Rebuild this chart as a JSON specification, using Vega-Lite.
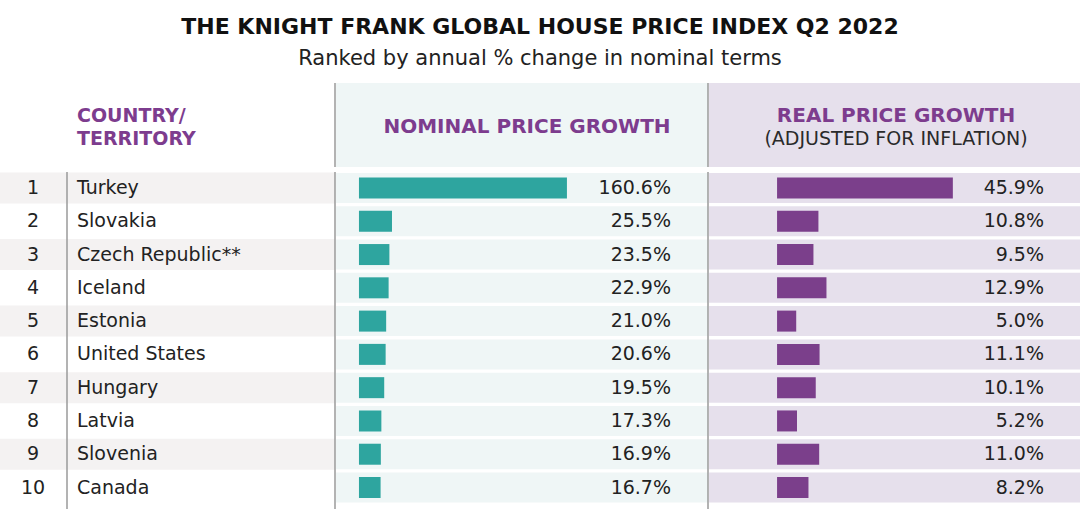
{
  "$schema": "https://vega.github.io/schema/vega-lite/v6.json",
  "width": 1080,
  "height": 429,
  "autosize": "none",
  "padding": {"top": 80, "left": 0, "right": 0, "bottom": 0},
  "background": "white",
  "title": {
    "text": "THE KNIGHT FRANK GLOBAL HOUSE PRICE INDEX Q2 2022",
    "subtitle": "Ranked by annual % change in nominal terms",
    "anchor": "middle",
    "font": "DejaVu Sans",
    "fontSize": 22,
    "fontWeight": "bold",
    "color": "#111111",
    "subtitleFont": "DejaVu Sans",
    "subtitleFontSize": 21,
    "subtitleColor": "#222222",
    "subtitlePadding": 9,
    "offset": 10
  },
  "datasets": {
    "rows": [
      {"rank": 1, "country": "Turkey", "nominal": 160.6, "real": 45.9},
      {"rank": 2, "country": "Slovakia", "nominal": 25.5, "real": 10.8},
      {"rank": 3, "country": "Czech Republic**", "nominal": 23.5, "real": 9.5},
      {"rank": 4, "country": "Iceland", "nominal": 22.9, "real": 12.9},
      {"rank": 5, "country": "Estonia", "nominal": 21.0, "real": 5.0},
      {"rank": 6, "country": "United States", "nominal": 20.6, "real": 11.1},
      {"rank": 7, "country": "Hungary", "nominal": 19.5, "real": 10.1},
      {"rank": 8, "country": "Latvia", "nominal": 17.3, "real": 5.2},
      {"rank": 9, "country": "Slovenia", "nominal": 16.9, "real": 11.0},
      {"rank": 10, "country": "Canada", "nominal": 16.7, "real": 8.2}
    ]
  },
  "layer": [
    {
      "data": {"name": "rows"},
      "transform": [{"filter": "datum.rank % 2 == 1"}],
      "mark": {"type": "bar", "orient": "horizontal", "size": 31, "color": "#f4f2f2"},
      "encoding": {
        "x": {"datum": 0, "type": "quantitative", "scale": {"domain": [0, 1080], "nice": false, "zero": false, "padding": 0}, "axis": null},
        "x2": {"datum": 335},
        "y": {"field": "rank", "type": "quantitative", "scale": {"domain": [-2.245, 10.646], "reverse": true, "nice": false, "zero": false, "padding": 0}, "axis": null}
      }
    },
    {
      "data": {"values": [{"panel": "nominal"}]},
      "mark": {"type": "rect", "color": "#eff6f6"},
      "encoding": {
        "x": {"datum": 336, "type": "quantitative", "scale": {"domain": [0, 1080], "nice": false, "zero": false, "padding": 0}, "axis": null},
        "x2": {"datum": 708},
        "y": {"datum": -2.155, "type": "quantitative", "scale": {"domain": [-2.245, 10.646], "reverse": true, "nice": false, "zero": false, "padding": 0}, "axis": null},
        "y2": {"datum": 0.369}
      }
    },
    {
      "data": {"values": [{"panel": "real"}]},
      "mark": {"type": "rect", "color": "#e6e0ec"},
      "encoding": {
        "x": {"datum": 709, "type": "quantitative", "scale": {"domain": [0, 1080], "nice": false, "zero": false, "padding": 0}, "axis": null},
        "x2": {"datum": 1080},
        "y": {"datum": -2.155, "type": "quantitative", "scale": {"domain": [-2.245, 10.646], "reverse": true, "nice": false, "zero": false, "padding": 0}, "axis": null},
        "y2": {"datum": 0.369}
      }
    },
    {
      "data": {"name": "rows"},
      "mark": {"type": "bar", "orient": "horizontal", "size": 30, "color": "#eff6f6"},
      "encoding": {
        "x": {"datum": 336, "type": "quantitative", "scale": {"domain": [0, 1080], "nice": false, "zero": false, "padding": 0}, "axis": null},
        "x2": {"datum": 708},
        "y": {"field": "rank", "type": "quantitative", "scale": {"domain": [-2.245, 10.646], "reverse": true, "nice": false, "zero": false, "padding": 0}, "axis": null}
      }
    },
    {
      "data": {"name": "rows"},
      "mark": {"type": "bar", "orient": "horizontal", "size": 30, "color": "#e6e0ec"},
      "encoding": {
        "x": {"datum": 709, "type": "quantitative", "scale": {"domain": [0, 1080], "nice": false, "zero": false, "padding": 0}, "axis": null},
        "x2": {"datum": 1080},
        "y": {"field": "rank", "type": "quantitative", "scale": {"domain": [-2.245, 10.646], "reverse": true, "nice": false, "zero": false, "padding": 0}, "axis": null}
      }
    },
    {
      "data": {"values": [{"line": "rank-country"}]},
      "mark": {"type": "rule", "color": "#9a9a9a", "strokeWidth": 1.5},
      "encoding": {
        "x": {"datum": 67, "type": "quantitative", "scale": {"domain": [0, 1080], "nice": false, "zero": false, "padding": 0}, "axis": null},
        "y": {"datum": 0.52, "type": "quantitative", "scale": {"domain": [-2.245, 10.646], "reverse": true, "nice": false, "zero": false, "padding": 0}, "axis": null},
        "y2": {"datum": 10.646}
      }
    },
    {
      "data": {"values": [{"line": "country-nominal-head"}]},
      "mark": {"type": "rule", "color": "#9a9a9a", "strokeWidth": 1.5},
      "encoding": {
        "x": {"datum": 335, "type": "quantitative", "scale": {"domain": [0, 1080], "nice": false, "zero": false, "padding": 0}, "axis": null},
        "y": {"datum": -2.155, "type": "quantitative", "scale": {"domain": [-2.245, 10.646], "reverse": true, "nice": false, "zero": false, "padding": 0}, "axis": null},
        "y2": {"datum": 0.369}
      }
    },
    {
      "data": {"values": [{"line": "country-nominal-body"}]},
      "mark": {"type": "rule", "color": "#9a9a9a", "strokeWidth": 1.5},
      "encoding": {
        "x": {"datum": 335, "type": "quantitative", "scale": {"domain": [0, 1080], "nice": false, "zero": false, "padding": 0}, "axis": null},
        "y": {"datum": 0.52, "type": "quantitative", "scale": {"domain": [-2.245, 10.646], "reverse": true, "nice": false, "zero": false, "padding": 0}, "axis": null},
        "y2": {"datum": 10.646}
      }
    },
    {
      "data": {"values": [{"line": "nominal-real-head"}]},
      "mark": {"type": "rule", "color": "#9a9a9a", "strokeWidth": 1.5},
      "encoding": {
        "x": {"datum": 708, "type": "quantitative", "scale": {"domain": [0, 1080], "nice": false, "zero": false, "padding": 0}, "axis": null},
        "y": {"datum": -2.155, "type": "quantitative", "scale": {"domain": [-2.245, 10.646], "reverse": true, "nice": false, "zero": false, "padding": 0}, "axis": null},
        "y2": {"datum": 0.369}
      }
    },
    {
      "data": {"values": [{"line": "nominal-real-body"}]},
      "mark": {"type": "rule", "color": "#9a9a9a", "strokeWidth": 1.5},
      "encoding": {
        "x": {"datum": 708, "type": "quantitative", "scale": {"domain": [0, 1080], "nice": false, "zero": false, "padding": 0}, "axis": null},
        "y": {"datum": 0.52, "type": "quantitative", "scale": {"domain": [-2.245, 10.646], "reverse": true, "nice": false, "zero": false, "padding": 0}, "axis": null},
        "y2": {"datum": 10.646}
      }
    },
    {
      "data": {"name": "rows"},
      "mark": {"type": "bar", "orient": "horizontal", "size": 21, "color": "#2ea59f"},
      "encoding": {
        "x": {"field": "nominal", "type": "quantitative", "scale": {"domain": [-277.2, 556.8], "nice": false, "zero": false, "padding": 0}, "axis": null},
        "x2": {"datum": 0},
        "y": {"field": "rank", "type": "quantitative", "scale": {"domain": [-2.245, 10.646], "reverse": true, "nice": false, "zero": false, "padding": 0}, "axis": null}
      }
    },
    {
      "data": {"name": "rows"},
      "mark": {"type": "bar", "orient": "horizontal", "size": 21, "color": "#7b3f8b"},
      "encoding": {
        "x": {"field": "real", "type": "quantitative", "scale": {"domain": [-202.9, 79.1], "nice": false, "zero": false, "padding": 0}, "axis": null},
        "x2": {"datum": 0},
        "y": {"field": "rank", "type": "quantitative", "scale": {"domain": [-2.245, 10.646], "reverse": true, "nice": false, "zero": false, "padding": 0}, "axis": null}
      }
    },
    {
      "data": {"name": "rows"},
      "mark": {"type": "text", "align": "center", "baseline": "middle", "font": "DejaVu Sans", "fontSize": 19, "color": "#222222"},
      "encoding": {
        "x": {"datum": 33, "type": "quantitative", "scale": {"domain": [0, 1080], "nice": false, "zero": false, "padding": 0}, "axis": null},
        "y": {"field": "rank", "type": "quantitative", "scale": {"domain": [-2.245, 10.646], "reverse": true, "nice": false, "zero": false, "padding": 0}, "axis": null},
        "text": {"field": "rank", "type": "quantitative"}
      }
    },
    {
      "data": {"name": "rows"},
      "mark": {"type": "text", "align": "left", "baseline": "middle", "font": "DejaVu Sans", "fontSize": 19, "color": "#222222"},
      "encoding": {
        "x": {"datum": 77, "type": "quantitative", "scale": {"domain": [0, 1080], "nice": false, "zero": false, "padding": 0}, "axis": null},
        "y": {"field": "rank", "type": "quantitative", "scale": {"domain": [-2.245, 10.646], "reverse": true, "nice": false, "zero": false, "padding": 0}, "axis": null},
        "text": {"field": "country", "type": "nominal"}
      }
    },
    {
      "data": {"name": "rows"},
      "mark": {"type": "text", "align": "right", "baseline": "middle", "font": "DejaVu Sans", "fontSize": 19, "color": "#222222", "text": {"expr": "format(datum.nominal, '.1f') + '%'"}},
      "encoding": {
        "x": {"datum": 671, "type": "quantitative", "scale": {"domain": [0, 1080], "nice": false, "zero": false, "padding": 0}, "axis": null},
        "y": {"field": "rank", "type": "quantitative", "scale": {"domain": [-2.245, 10.646], "reverse": true, "nice": false, "zero": false, "padding": 0}, "axis": null}
      }
    },
    {
      "data": {"name": "rows"},
      "mark": {"type": "text", "align": "right", "baseline": "middle", "font": "DejaVu Sans", "fontSize": 19, "color": "#222222", "text": {"expr": "format(datum.real, '.1f') + '%'"}},
      "encoding": {
        "x": {"datum": 1044, "type": "quantitative", "scale": {"domain": [0, 1080], "nice": false, "zero": false, "padding": 0}, "axis": null},
        "y": {"field": "rank", "type": "quantitative", "scale": {"domain": [-2.245, 10.646], "reverse": true, "nice": false, "zero": false, "padding": 0}, "axis": null}
      }
    },
    {
      "data": {"values": [{"label": "COUNTRY/"}]},
      "mark": {"type": "text", "align": "left", "baseline": "middle", "font": "DejaVu Sans", "fontSize": 19, "fontWeight": "bold", "color": "#7d3c8e"},
      "encoding": {
        "x": {"datum": 77, "type": "quantitative", "scale": {"domain": [0, 1080], "nice": false, "zero": false, "padding": 0}, "axis": null},
        "y": {"datum": -1.163, "type": "quantitative", "scale": {"domain": [-2.245, 10.646], "reverse": true, "nice": false, "zero": false, "padding": 0}, "axis": null},
        "text": {"field": "label", "type": "nominal"}
      }
    },
    {
      "data": {"values": [{"label": "TERRITORY"}]},
      "mark": {"type": "text", "align": "left", "baseline": "middle", "font": "DejaVu Sans", "fontSize": 19, "fontWeight": "bold", "color": "#7d3c8e"},
      "encoding": {
        "x": {"datum": 77, "type": "quantitative", "scale": {"domain": [0, 1080], "nice": false, "zero": false, "padding": 0}, "axis": null},
        "y": {"datum": -0.472, "type": "quantitative", "scale": {"domain": [-2.245, 10.646], "reverse": true, "nice": false, "zero": false, "padding": 0}, "axis": null},
        "text": {"field": "label", "type": "nominal"}
      }
    },
    {
      "data": {"values": [{"label": "NOMINAL PRICE GROWTH"}]},
      "mark": {"type": "text", "align": "center", "baseline": "middle", "font": "DejaVu Sans", "fontSize": 20, "fontWeight": "bold", "color": "#7d3c8e"},
      "encoding": {
        "x": {"datum": 527, "type": "quantitative", "scale": {"domain": [0, 1080], "nice": false, "zero": false, "padding": 0}, "axis": null},
        "y": {"datum": -0.833, "type": "quantitative", "scale": {"domain": [-2.245, 10.646], "reverse": true, "nice": false, "zero": false, "padding": 0}, "axis": null},
        "text": {"field": "label", "type": "nominal"}
      }
    },
    {
      "data": {"values": [{"label": "REAL PRICE GROWTH"}]},
      "mark": {"type": "text", "align": "center", "baseline": "middle", "font": "DejaVu Sans", "fontSize": 20, "fontWeight": "bold", "color": "#7d3c8e"},
      "encoding": {
        "x": {"datum": 896, "type": "quantitative", "scale": {"domain": [0, 1080], "nice": false, "zero": false, "padding": 0}, "axis": null},
        "y": {"datum": -1.163, "type": "quantitative", "scale": {"domain": [-2.245, 10.646], "reverse": true, "nice": false, "zero": false, "padding": 0}, "axis": null},
        "text": {"field": "label", "type": "nominal"}
      }
    },
    {
      "data": {"values": [{"label": "(ADJUSTED FOR INFLATION)"}]},
      "mark": {"type": "text", "align": "center", "baseline": "middle", "font": "DejaVu Sans", "fontSize": 19, "color": "#2a2a2a"},
      "encoding": {
        "x": {"datum": 896, "type": "quantitative", "scale": {"domain": [0, 1080], "nice": false, "zero": false, "padding": 0}, "axis": null},
        "y": {"datum": -0.472, "type": "quantitative", "scale": {"domain": [-2.245, 10.646], "reverse": true, "nice": false, "zero": false, "padding": 0}, "axis": null},
        "text": {"field": "label", "type": "nominal"}
      }
    }
  ],
  "resolve": {"scale": {"x": "independent"}},
  "config": {"view": {"stroke": null}, "scale": {"continuousPadding": 0}}
}
